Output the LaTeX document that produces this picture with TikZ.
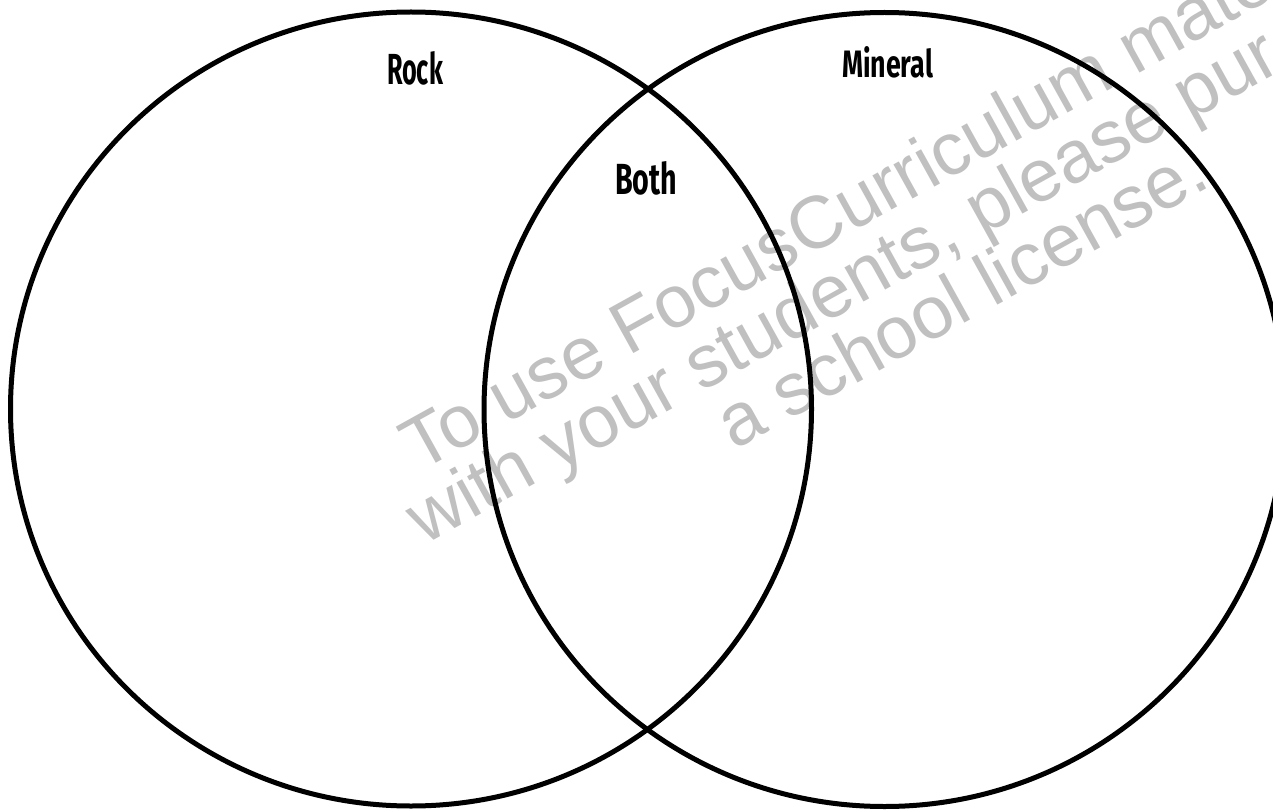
\documentclass[tikz,border=0pt]{standalone}
\usepackage{fontspec}
\usepackage{graphicx}
\setmainfont{Liberation Sans}
\newfontfamily\labelfont{Fira Sans}
\definecolor{wmgray}{RGB}{192,192,192}
\begin{document}
\begin{tikzpicture}[x=1pt,y=-1pt,
  circ/.style={line width=5pt,draw=black},
  lbl/.style={inner sep=0pt,text=black},
  wmark/.style={text=wmgray,anchor=base,rotate=29,inner sep=0pt,font=\fontsize{74}{74}\selectfont}]
\useasboundingbox (0,0) rectangle (1273,810);
\clip (0,0) rectangle (1273,810);
\fill[white] (0,0) rectangle (1273,810);
\node[wmark] (wma) at (908.6,201) {To use FocusCurriculum materials};
\node[wmark] (wmb) at (941,259.6) {with your students, please purchase};
\node[wmark] (wmc) at (973.6,318.2) {a school license.};
\draw[circ] (411,409) ellipse [x radius=400.5pt, y radius=397pt];
\draw[circ] (884.5,409.5) ellipse [x radius=400.5pt, y radius=397pt];
\node[lbl] (rock) at (415,68.5) {\resizebox{56pt}{33pt}{\labelfont\bfseries Rock}};
\node[lbl] (mineral) at (887.5,62.5) {\resizebox{91pt}{31pt}{\labelfont\bfseries Mineral}};
\node[lbl] (both) at (646,178.5) {\resizebox{62pt}{33pt}{\labelfont\bfseries Both}};
\end{tikzpicture}
\end{document}
